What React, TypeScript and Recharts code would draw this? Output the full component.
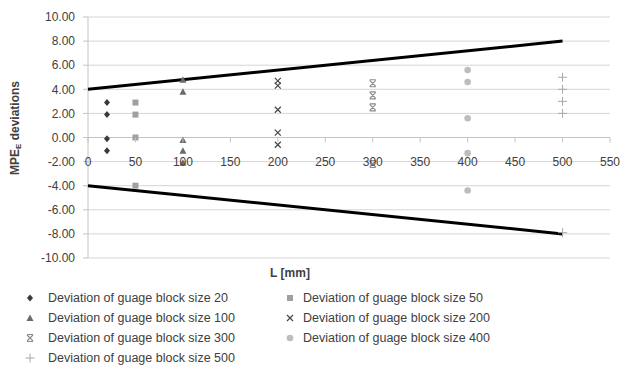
import { ScatterChart, Scatter, XAxis, YAxis, CartesianGrid, ReferenceLine } from 'recharts'

// MPE limit lines (L in mm -> deviation)
const LIMIT_L = [0, 500]
const LIMIT_UPPER = [4, 8]
const LIMIT_LOWER = [-4, -8]

// deviations read per gauge block size, all measured at L = block size
const DEV_20 = [2.9, 1.9, -0.1, -1.1]
const DEV_50 = [2.9, 1.9, 0, -4.0]
const DEV_100 = [4.8, 3.8, -0.2, -1.1, -2.1]
const DEV_200 = [4.7, 4.3, 2.3, 0.4, -0.6]
const DEV_300 = [4.5, 3.5, 2.5, -2.2]
const DEV_400 = [5.6, 4.6, 1.6, -1.3, -4.4]
const DEV_500 = [5.0, 4.0, 3.0, 2.0, -7.9]

const X_TICKS = [0, 50, 100, 150, 200, 250, 300, 350, 400, 450, 500, 550]
const Y_TICKS = [-10, -8, -6, -4, -2, 0, 2, 4, 6, 8, 10]

const W = 624
const H = 365
const M = { top: 17, right: 14, bottom: 106, left: 0 }
const X_AXIS_H = 1
const PLOT_TOP = M.top
const PLOT_H = H - M.top - M.bottom - X_AXIS_H
const ZERO_Y = PLOT_TOP + PLOT_H / 2

const FONT = '"Liberation Sans", Arial, sans-serif'
const TEXT = '#404040'
const AXIS = '#c4c4c4'

type Pt = { L: number; v: number }
const toPts = (L: number, vals: number[]): Pt[] => vals.map(v => ({ L, v }))
const upper: Pt[] = LIMIT_L.map((L, i) => ({ L, v: LIMIT_UPPER[i] }))
const lower: Pt[] = LIMIT_L.map((L, i) => ({ L, v: LIMIT_LOWER[i] }))

// marker glyphs, drawn around (cx, cy)
type Glyph = (cx: number, cy: number) => JSX.Element
const diamond = (c: string): Glyph => (cx, cy) => (
  <path d={`M${cx},${cy - 3.5}L${cx + 3},${cy}L${cx},${cy + 3.5}L${cx - 3},${cy}Z`} fill={c} />
)
const square = (c: string): Glyph => (cx, cy) => (
  <rect x={cx - 3} y={cy - 3} width={6} height={6} fill={c} />
)
const triangle = (c: string): Glyph => (cx, cy) => (
  <path d={`M${cx},${cy - 3.5}L${cx + 3.5},${cy + 3}L${cx - 3.5},${cy + 3}Z`} fill={c} />
)
const cross = (c: string): Glyph => (cx, cy) => (
  <path d={`M${cx - 3},${cy - 3}L${cx + 3},${cy + 3}M${cx + 3},${cy - 3}L${cx - 3},${cy + 3}`} stroke={c} strokeWidth={1.2} />
)
const star = (c: string): Glyph => (cx, cy) => (
  <path d={`M${cx - 3},${cy - 3}L${cx + 3},${cy + 3}M${cx + 3},${cy - 3}L${cx - 3},${cy + 3}M${cx - 3},${cy - 3.5}L${cx + 3},${cy - 3.5}M${cx - 3},${cy + 3.5}L${cx + 3},${cy + 3.5}`} stroke={c} strokeWidth={1.1} />
)
const dot = (c: string): Glyph => (cx, cy) => <circle cx={cx} cy={cy} r={3.3} fill={c} />
const plus = (c: string): Glyph => (cx, cy) => (
  <path d={`M${cx - 4.5},${cy}L${cx + 4.5},${cy}M${cx},${cy - 4.5}L${cx},${cy + 4.5}`} stroke={c} strokeWidth={1} />
)

const SERIES = [
  { name: 'Deviation of guage block size 20', data: toPts(20, DEV_20), glyph: diamond('#3a3a3a') },
  { name: 'Deviation of guage block size 50', data: toPts(50, DEV_50), glyph: square('#a0a0a0') },
  { name: 'Deviation of guage block size 100', data: toPts(100, DEV_100), glyph: triangle('#6a6a6a') },
  { name: 'Deviation of guage block size 200', data: toPts(200, DEV_200), glyph: cross('#444444') },
  { name: 'Deviation of guage block size 300', data: toPts(300, DEV_300), glyph: star('#8a8a8a') },
  { name: 'Deviation of guage block size 400', data: toPts(400, DEV_400), glyph: dot('#bdbdbd') },
  { name: 'Deviation of guage block size 500', data: toPts(500, DEV_500), glyph: plus('#a8a8a8') },
]

function XTick(props: any) {
  const { x, payload } = props
  return (
    <g>
      <line x1={x} x2={x} y1={ZERO_Y} y2={ZERO_Y + 5} stroke={AXIS} />
      <text x={x} y={ZERO_Y + 28} textAnchor="middle" fontSize={12} fill={TEXT} fontFamily={FONT}>
        {payload.value}
      </text>
    </g>
  )
}

export default function App() {
  return (
    <div style={{ position: 'absolute', left: 0, top: 0, width: W, height: H, background: '#fff', fontFamily: FONT }}>
      <ScatterChart width={W} height={H} margin={M}>
        <CartesianGrid vertical={false} stroke="#d6d6d6" />
        <XAxis
          type="number"
          dataKey="L"
          domain={[0, 550]}
          ticks={X_TICKS}
          height={X_AXIS_H}
          axisLine={false}
          tickLine={false}
          tick={<XTick />}
          interval={0}
          label={() => (
            <text x={290} y={277} textAnchor="middle" fontSize={12} fontWeight="bold" fill={TEXT} fontFamily={FONT}>
              L [mm]
            </text>
          )}
        />
        <YAxis
          type="number"
          dataKey="v"
          domain={[-10, 10]}
          ticks={Y_TICKS}
          width={88}
          tickSize={5}
          tickMargin={8}
          interval={0}
          tickFormatter={(v: number) => v.toFixed(2)}
          tick={{ fontSize: 12, fill: TEXT, fontFamily: FONT }}
          axisLine={{ stroke: AXIS }}
          tickLine={{ stroke: AXIS }}
          label={() => (
            <text x={19} y={128} transform="rotate(-90 19 128)" textAnchor="middle" fontSize={12} fontWeight="bold" fill={TEXT} fontFamily={FONT}>
              MPE<tspan fontSize={8} dy={2}>E</tspan><tspan dy={-2}> deviations</tspan>
            </text>
          )}
        />
        <ReferenceLine y={0} stroke={AXIS} />
        <Scatter data={upper} line={{ stroke: '#000', strokeWidth: 3 }} shape={() => null} isAnimationActive={false} />
        <Scatter data={lower} line={{ stroke: '#000', strokeWidth: 3 }} shape={() => null} isAnimationActive={false} />
        {SERIES.map(s => (
          <Scatter
            key={s.name}
            name={s.name}
            data={s.data}
            isAnimationActive={false}
            shape={(p: any) => s.glyph(p.cx, p.cy)}
          />
        ))}
      </ScatterChart>
      {SERIES.map((s, i) => {
        const col = i % 2
        const row = Math.floor(i / 2)
        const mx = col === 0 ? 30 : 290
        const cy = 298 + row * 20
        return (
          <div key={s.name} style={{ position: 'absolute', left: mx - 8, top: cy - 10, height: 20, display: 'flex', alignItems: 'center' }}>
            <svg width={16} height={16} style={{ display: 'block' }}>
              {s.glyph(8, 8)}
            </svg>
            <span style={{ marginLeft: col === 0 ? 10 : 5, fontSize: 12.5, color: TEXT, whiteSpace: 'nowrap' }}>{s.name}</span>
          </div>
        )
      })}
    </div>
  )
}
